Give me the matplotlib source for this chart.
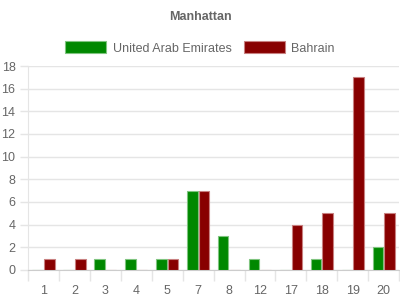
import numpy as np
import matplotlib
matplotlib.use("Agg")
import matplotlib.pyplot as plt

plt.rcParams['font.family'] = ['Liberation Sans', 'DejaVu Sans']

categories = ["1", "2", "3", "4", "5", "7", "8", "12", "17", "18", "19", "20"]
uae = [0, 0, 1, 1, 1, 7, 3, 1, 0, 1, 0, 2]
bahrain = [1, 1, 0, 0, 1, 7, 0, 0, 4, 5, 17, 5]

grid_col = "#e5e5e5"
text_col = "#666666"

fig = plt.figure(figsize=(4, 3), dpi=100)
ax = fig.add_axes([0.07, 0.10, 0.928, 0.68])

x = np.arange(len(categories))
w = 0.34
ax.bar(x - 0.19, uae, width=w, color="#008800", edgecolor="#7fc47f", linewidth=0.8,
       label="United Arab Emirates", zorder=3)
ax.bar(x + 0.19, bahrain, width=w, color="#880000", edgecolor="#c88080", linewidth=0.8,
       label="Bahrain", zorder=3)

ax.set_xlim(-0.5, len(categories) - 0.5)
ax.set_ylim(0, 18)
ax.set_yticks(range(0, 19, 2))
ax.set_xticks(x)
ax.set_xticklabels(categories)
ax.set_xticks(np.arange(-0.5, len(categories), 1), minor=True)
ax.tick_params(axis="x", which="major", length=0, pad=11, labelsize=9, labelcolor=text_col)
ax.tick_params(axis="x", which="minor", length=8, color=grid_col, width=1)
ax.tick_params(axis="y", length=6, color=grid_col, width=1, labelsize=9, labelcolor=text_col, pad=3)

ax.grid(axis="y", color=grid_col, linewidth=1, zorder=0)
for s in ["top", "right"]:
    ax.spines[s].set_visible(False)
ax.spines["left"].set_color(grid_col)
ax.spines["bottom"].set_color("#cccccc")

fig.text(0.5, 0.945, "Manhattan", ha="center", va="center", fontsize=9,
         fontweight="bold", color=text_col)
fig.legend(loc="center", bbox_to_anchor=(0.5, 0.84), ncol=2, frameon=False,
           fontsize=9, labelcolor=text_col, handlelength=3.3, handleheight=1.1,
           columnspacing=1.0, handletextpad=0.5)

fig.savefig("out.png", dpi=100)
